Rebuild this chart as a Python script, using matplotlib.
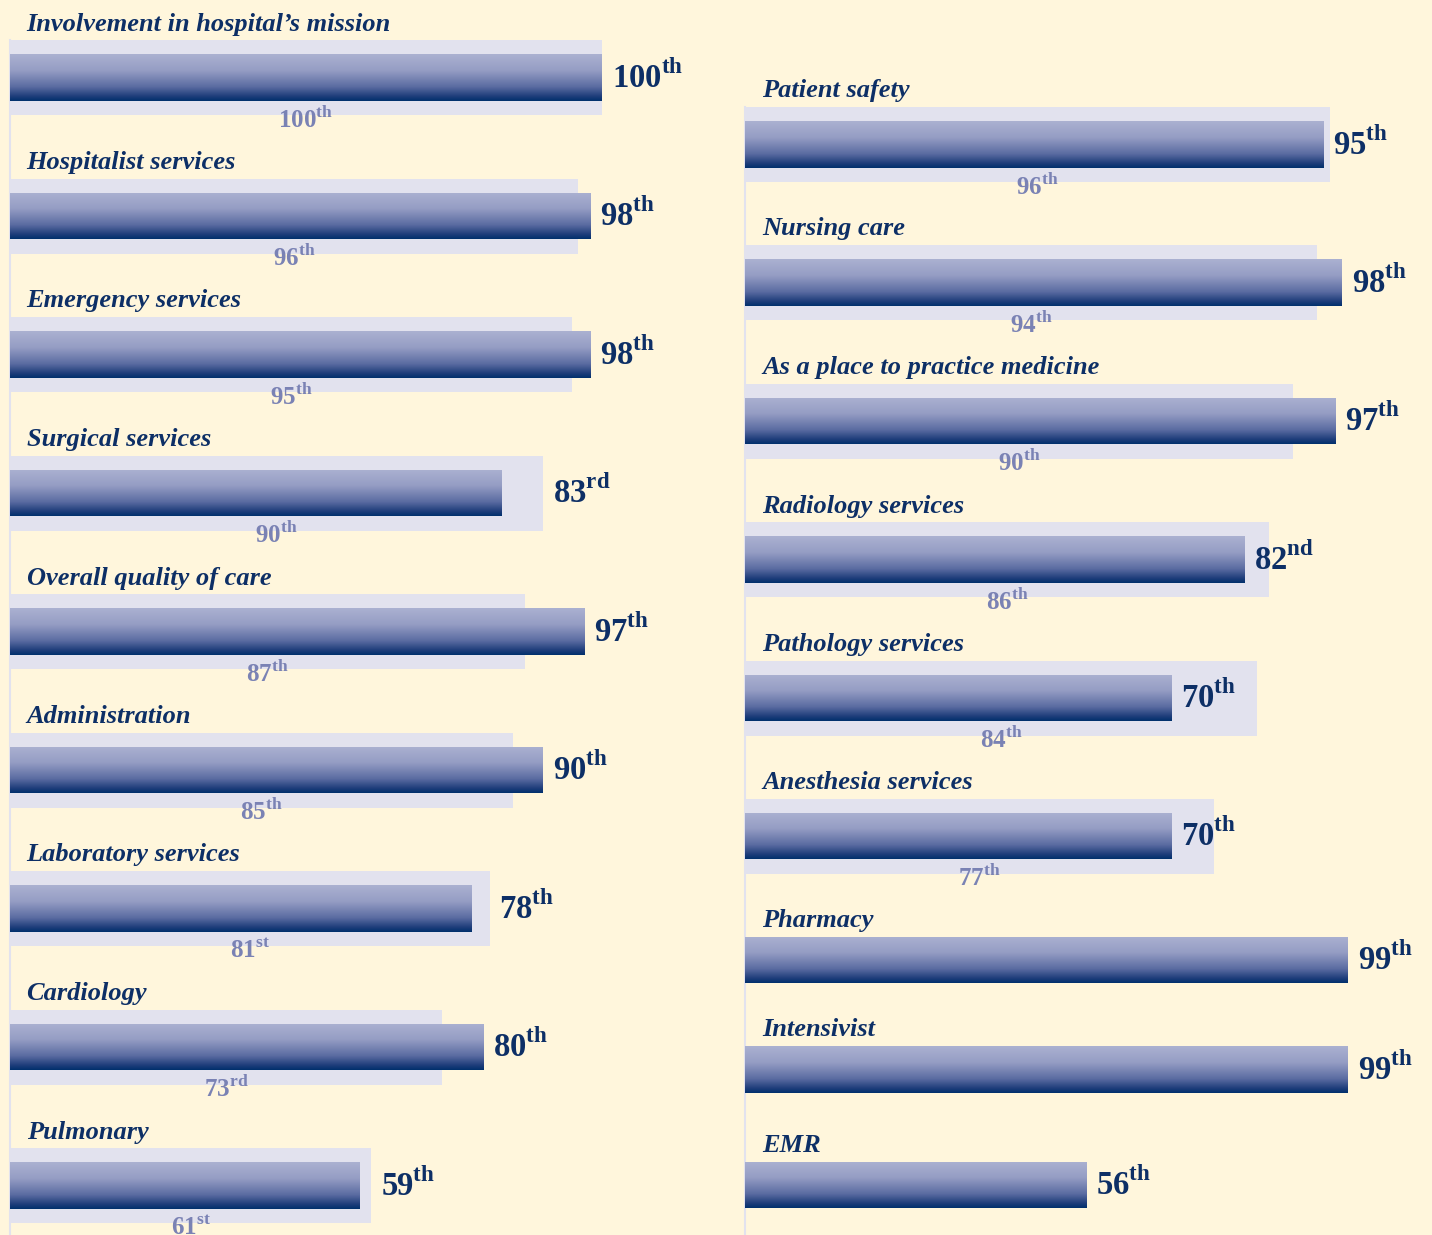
import numpy as np
import matplotlib
matplotlib.use("Agg")
import matplotlib.pyplot as plt
from matplotlib.colors import LinearSegmentedColormap

# Datos del gráfico (percentiles, año actual y año anterior)
left_labels = ["Involvement in hospital\u2019s mission", "Hospitalist services",
               "Emergency services", "Surgical services", "Overall quality of care",
               "Administration", "Laboratory services", "Cardiology", "Pulmonary"]
left_current = [100, 98, 98, 83, 97, 90, 78, 80, 59]
left_prior = [100, 96, 95, 90, 87, 85, 81, 73, 61]

right_labels = ["Patient safety", "Nursing care", "As a place to practice medicine",
                "Radiology services", "Pathology services", "Anesthesia services",
                "Pharmacy", "Intensivist", "EMR"]
right_current = [95, 98, 97, 82, 70, 70, 99, 99, 56]
right_prior = [96, 94, 90, 86, 84, 77, None, None, None]

# Layout (pixels, y desde arriba)
W, H = 1432, 1235
left_rows = [77.5 + 138.5 * i for i in range(9)]
right_rows = [144.5, 282.5, 421, 559.5, 698, 836, 960, 1069.5, 1185]

BG = "#FFF6DC"
PRIOR_BAR = "#E2E2EE"
NAVY = "#0D2F66"
PRIOR_TXT = "#7A82B4"
BAR_H = 47
PRIOR_H = 75

plt.rcParams["mathtext.fontset"] = "custom"
plt.rcParams["mathtext.rm"] = "Liberation Serif"
plt.rcParams["mathtext.bf"] = "Liberation Serif:bold"

grad_cmap = LinearSegmentedColormap.from_list(
    "bar", [(0.0, "#ABB1D1"), (0.35, "#959DC4"), (0.7, "#5A6BA1"),
            (0.9, "#1E3D7A"), (1.0, "#00306C")])
grad = np.linspace(0, 1, 256).reshape(-1, 1)


def ordinal(n):
    if 10 <= n % 100 <= 20:
        return "th"
    return {1: "st", 2: "nd", 3: "rd"}.get(n % 10, "th")


def label(n):
    return r"$\mathbf{%d}^{\mathbf{%s}}$" % (n, ordinal(n))


def draw_column(ax, labels, current, prior, rows, label_after_max):
    ax.set_xlim(0, 100)
    ax.set_ylim(H, 0)
    ax.axis("off")
    first_top = rows[0] - (PRIOR_H / 2 if prior[0] is not None else BAR_H / 2)
    ax.plot([0, 0], [first_top, H], color=PRIOR_BAR, lw=1.5, clip_on=False)
    for name, cur, prev, y in zip(labels, current, prior, rows):
        top = y - BAR_H / 2
        if prev is not None:
            ax.barh(y, prev, height=PRIOR_H, left=0, color=PRIOR_BAR, zorder=1)
            top = y - PRIOR_H / 2
            ax.text(prev / 2, y + 42, label(prev), color=PRIOR_TXT, fontsize=18,
                    ha="center", va="center", zorder=4)
        bar = ax.barh(y, cur, height=BAR_H, left=0, color="none", zorder=2)[0]
        im = ax.imshow(grad, cmap=grad_cmap, aspect="auto", zorder=3,
                       extent=[0, cur, y + BAR_H / 2, y - BAR_H / 2])
        im.set_clip_path(bar)
        xe = max(cur, prev) if (label_after_max and prev is not None) else cur
        ax.annotate(label(cur), (xe, y), xytext=(7, 0), textcoords="offset points",
                    color=NAVY, fontsize=23.5, ha="left", va="center", zorder=4)
        ax.text(2.8, top - 16, name, color=NAVY, fontsize=19, family="Liberation Serif",
                style="italic", weight="bold", ha="left", va="center", zorder=4)


fig = plt.figure(figsize=(W / 100, H / 100), dpi=100, facecolor=BG)
ax_left = fig.add_axes([10 / W, 0, 592 / W, 1])
ax_right = fig.add_axes([745 / W, 0, 609 / W, 1])
draw_column(ax_left, left_labels, left_current, left_prior, left_rows, True)
draw_column(ax_right, right_labels, right_current, right_prior, right_rows, False)

fig.savefig("out.png", dpi=100, facecolor=BG)
